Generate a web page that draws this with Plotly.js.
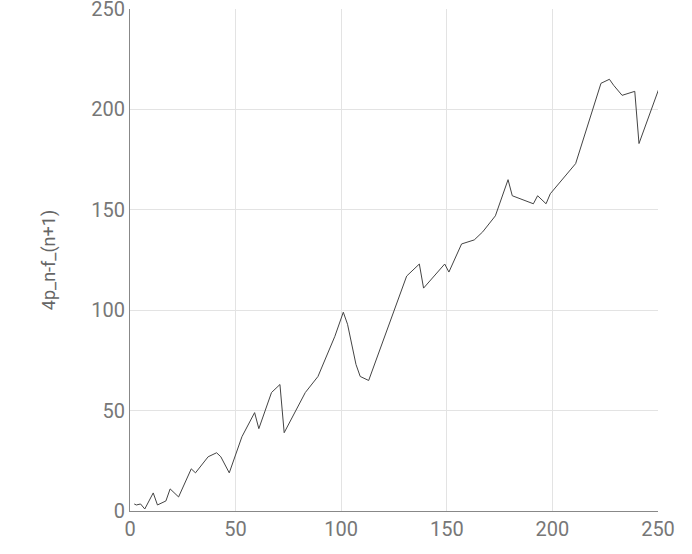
<!DOCTYPE html>
<html>
<head>
<meta charset="utf-8">
<script src="https://cdn.plot.ly/plotly-3.0.1.min.js"></script>
<style>
  html, body { margin: 0; padding: 0; background: #fff; }
  #chart { width: 692px; height: 554px; }
</style>
</head>
<body>
<div id="chart"></div>
<script>
// primes p_n on the x axis
const primes = [2, 3, 5, 7, 11, 13, 17, 19, 23, 29, 31, 37, 41, 43, 47, 53, 59, 61, 67, 71,
  73, 79, 83, 89, 97, 101, 103, 107, 109, 113, 127, 131, 137, 139, 149, 151, 157, 163, 167, 173,
  179, 181, 191, 193, 197, 199, 211, 223, 227, 229, 233, 239, 241, 251];

const values = [3.5, 3, 3.5, 1, 9, 3, 5, 11, 7, 21, 19, 27, 29, 27, 19, 37, 49, 41, 59, 63,
  39, 51, 59, 67, 87, 99, 93, 73, 67, 65, 105, 117, 123, 111, 123, 119, 133, 135, 139, 147,
  165, 157, 153, 157, 153, 158, 173, 213, 215, 212, 207, 209, 183, 212];

const tickVals = [0, 50, 100, 150, 200, 250];
const yTitle = '4p_n-f_(n+1)';

const trace = {
  x: primes,
  y: values,
  type: 'scatter',
  mode: 'lines',
  line: { color: '#444', width: 1 },
  hoverinfo: 'x+y'
};

const axisCommon = {
  range: [0, 250.0001],
  tickmode: 'array',
  tickvals: tickVals,
  ticktext: tickVals.map(String),
  showgrid: true,
  gridcolor: '#e3e3e3',
  gridwidth: 1,
  zeroline: false,
  showline: true,
  linecolor: '#888',
  linewidth: 1,
  ticks: '',
  ticklabeloverflow: 'allow',
  tickfont: { family: 'Roboto, sans-serif', size: 20, color: '#777' }
};

const layout = {
  width: 692,
  height: 554,
  margin: { l: 130, r: 34, t: 9, b: 43 },
  paper_bgcolor: '#fff',
  plot_bgcolor: '#fff',
  showlegend: false,
  font: { family: 'Roboto, sans-serif', color: '#777' },
  xaxis: Object.assign({}, axisCommon),
  yaxis: Object.assign({}, axisCommon, {
    title: { text: yTitle, font: { family: 'Roboto, sans-serif', size: 18, color: '#666' }, standoff: 30 }
  })
};

Plotly.newPlot('chart', [trace], layout, { displayModeBar: false });
</script>
</body>
</html>
